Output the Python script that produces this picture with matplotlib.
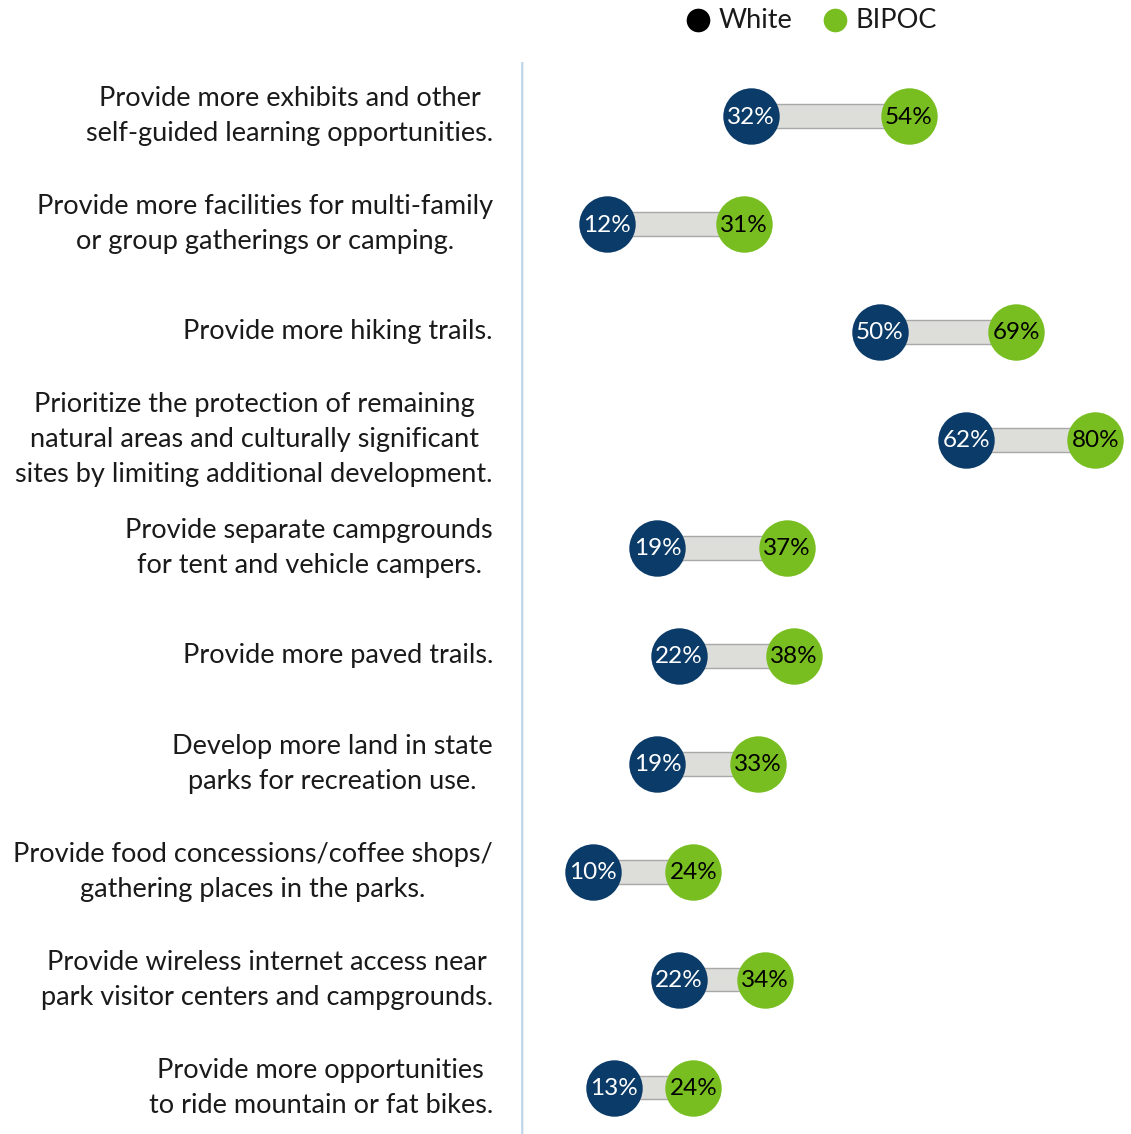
import matplotlib.pyplot as plt

CATEGORIES = [
    "Provide more exhibits and other\nself-guided learning opportunities.",
    "Provide more facilities for multi-family\nor group gatherings or camping.",
    "Provide more hiking trails.",
    "Prioritize the protection of remaining\nnatural areas and culturally significant\nsites by limiting additional development.",
    "Provide separate campgrounds\nfor tent and vehicle campers.",
    "Provide more paved trails.",
    "Develop more land in state\nparks for recreation use.",
    "Provide food concessions/coffee shops/\ngathering places in the parks.",
    "Provide wireless internet access near\npark visitor centers and campgrounds.",
    "Provide more opportunities\nto ride mountain or fat bikes.",
]
WHITE = [32, 12, 50, 62, 19, 22, 19, 10, 22, 13]
BIPOC = [54, 31, 69, 80, 37, 38, 33, 24, 34, 24]
SERIES = ["White", "BIPOC"]

NAVY = "#0B3B68"
GREEN = "#78BE21"
BAR = "#DDDDD9"

plt.rcParams["font.family"] = ["Lato", "DejaVu Sans"]

W, H = 1131, 1134
fig = plt.figure(figsize=(W / 100, H / 100), dpi=100)
ax = fig.add_axes([521 / W, 0, 1 - 521 / W, 1 - 62 / H])
ax.set_xlim(0, 610 / 7.18)
ax.set_ylim(9.43, -0.5)
ax.axis("off")

# vertical baseline at 0%
ax.axvline(0, color="#A9B9C8", lw=3.2, zorder=1)
ax.axvline(0, color="#C5DDF2", lw=1.8, zorder=1)

for i, (w, b, label) in enumerate(zip(WHITE, BIPOC, CATEGORIES)):
    ax.barh(i, b - w, left=w, height=0.22, color=BAR,
            edgecolor="#A8A8A8", lw=1, zorder=2)
    ax.scatter([w], [i], s=1650, color=NAVY, zorder=3, lw=0)
    ax.scatter([b], [i], s=1650, color=GREEN, zorder=3, lw=0)
    ax.text(w, i + 0.01, f"{w}%", color="white", fontsize=17.5,
            ha="center", va="center", zorder=4)
    ax.text(b, i + 0.01, f"{b}%", color="black", fontsize=17.5,
            ha="center", va="center", zorder=4)
    ax.text(-3.9, i, label, fontsize=19.5, color="#1A1A1A",
            ha="right", va="center", multialignment="center",
            linespacing=1.5, zorder=4)

# legend drawn in pixel coordinates across the top
lg = fig.add_axes([0, 0, 1, 1], zorder=5)
lg.set_xlim(0, W)
lg.set_ylim(H, 0)
lg.axis("off")
for name, color, mx, tx in [(SERIES[0], "black", 698, 719),
                            (SERIES[1], GREEN, 835, 855)]:
    lg.scatter([mx], [20], s=290, color=color, lw=0)
    lg.text(tx, 20, name, fontsize=19.5, color="#1A1A1A",
            ha="left", va="center")

fig.savefig("out.png", dpi=100)
